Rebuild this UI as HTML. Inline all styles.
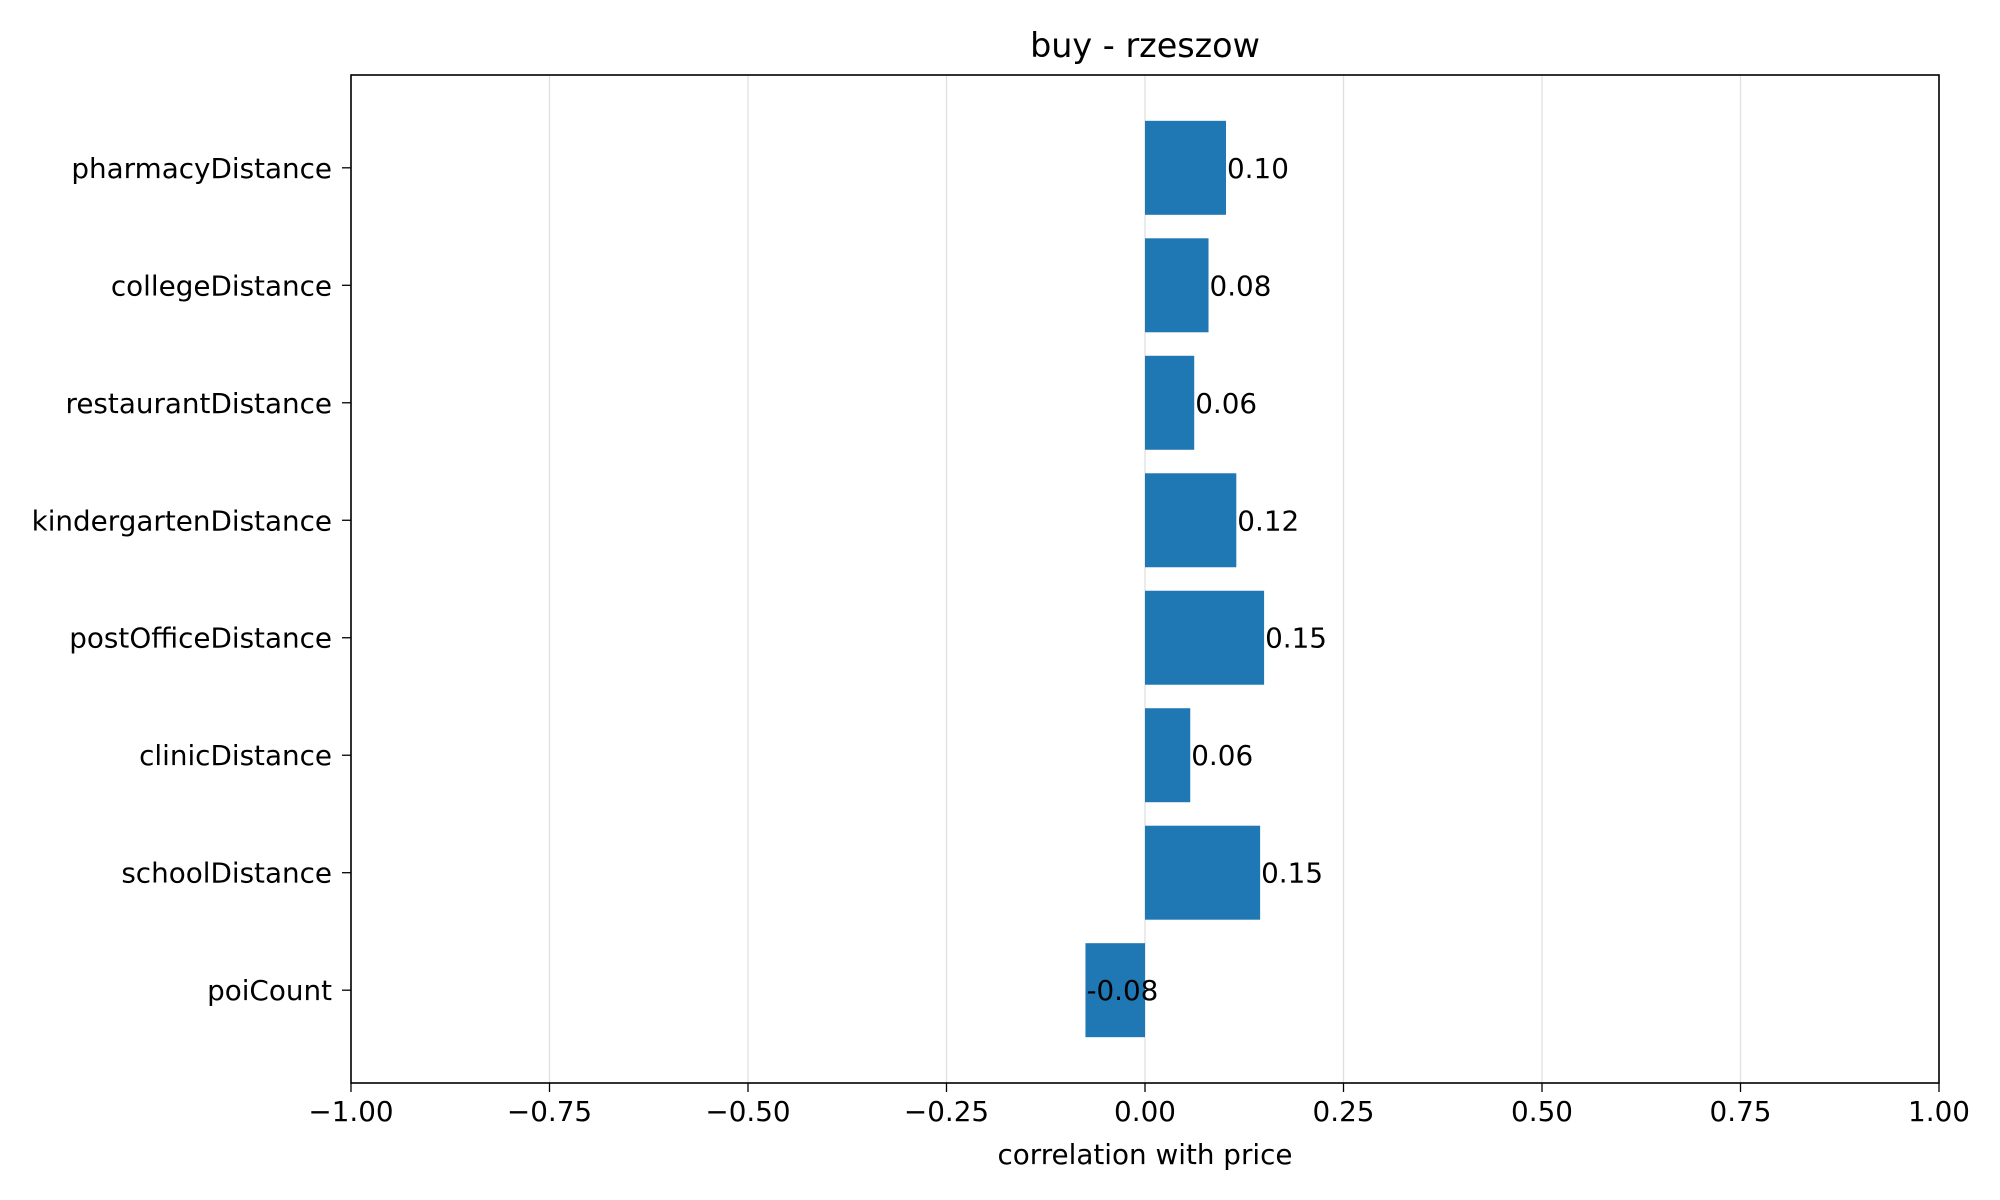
<!DOCTYPE html>
<html><head><meta charset="utf-8"><style>
html,body{margin:0;padding:0;background:#fff;}
svg{display:block;font-family:"DejaVu Sans","Liberation Sans",sans-serif;}
</style></head><body>
<svg id="chart" width="2000" height="1200" viewBox="0 0 2000 1200" xmlns="http://www.w3.org/2000/svg">
<rect x="0" y="0" width="2000" height="1200" fill="#fff"/>
<g id="grid"></g><g id="bars"></g><g id="labels"></g><g id="axes"></g>
</svg>
<script>
const categories = ["pharmacyDistance","collegeDistance","restaurantDistance","kindergartenDistance","postOfficeDistance","clinicDistance","schoolDistance","poiCount"];
const values = [0.102, 0.080, 0.062, 0.115, 0.150, 0.057, 0.145, -0.075];
const valueLabels = ["0.10","0.08","0.06","0.12","0.15","0.06","0.15","-0.08"];
const xTicks = [-1,-0.75,-0.5,-0.25,0,0.25,0.5,0.75,1];
const xTickLabels = ["\u22121.00","\u22120.75","\u22120.50","\u22120.25","0.00","0.25","0.50","0.75","1.00"];

const L=351,R=1939,T=75,B=1083;
const NS="http://www.w3.org/2000/svg";
const FS=27.8;
const xs=v=>L+(v+1)/2*(R-L);
const n=categories.length;
const span=(n-0.2);
const yMin=-0.4-span*0.05, yMax=n-0.6+span*0.05;
const yu=(B-T)/(yMax-yMin);
const ys=i=>T+(i-yMin)*yu;
const bh=0.8*yu;
function mk(tag,attrs,parent,text){const e=document.createElementNS(NS,tag);for(const k in attrs)e.setAttribute(k,attrs[k]);if(text!==undefined)e.textContent=text;parent.appendChild(e);return e;}
const g=document.getElementById('grid'),gb=document.getElementById('bars'),gl=document.getElementById('labels'),ga=document.getElementById('axes');
xTicks.forEach((t,i)=>{
  const x=xs(t);
  const gr=mk('line',{x1:x,x2:x,y1:T,y2:B,stroke:'#e0e0e0','stroke-width':1.3},g);
  
  
  const tk=mk('line',{x1:x,x2:x,y1:B,y2:B+9,stroke:'#000','stroke-width':1.3},ga);
  
  
  const tl=mk('text',{x:x,y:B+38,'text-anchor':'middle','font-size':FS,fill:'#000'},ga,xTickLabels[i]);
  
  
});
categories.forEach((c,i)=>{
  const cy=ys(i),v=values[i];
  const x0=xs(0),x1=xs(v);
  const r=mk('rect',{x:Math.min(x0,x1),y:cy-bh/2,width:Math.abs(x1-x0),height:bh,fill:'#1f77b4'},gb);
  
  
  const vl=mk('text',{x:x1+1,y:cy+10,'font-size':FS,fill:'#000'},gl,valueLabels[i]);
  
  
  const tk=mk('line',{x1:L-9,x2:L,y1:cy,y2:cy,stroke:'#000','stroke-width':1.3},ga);
  
  
  const yl=mk('text',{x:L-19,y:cy+10,'text-anchor':'end','font-size':FS,fill:'#000'},ga,c);
  
  
});
const fr=mk('rect',{x:L,y:T,width:R-L,height:B-T,fill:'none',stroke:'#000','stroke-width':1.6},ga);


const xt=mk('text',{x:(L+R)/2,y:1164,'text-anchor':'middle','font-size':FS,fill:'#000'},ga,'correlation with price');


const tt=mk('text',{x:(L+R)/2,y:57,'text-anchor':'middle','font-size':33.4,fill:'#000'},ga,'buy - rzeszow');


</script>
</body></html>
